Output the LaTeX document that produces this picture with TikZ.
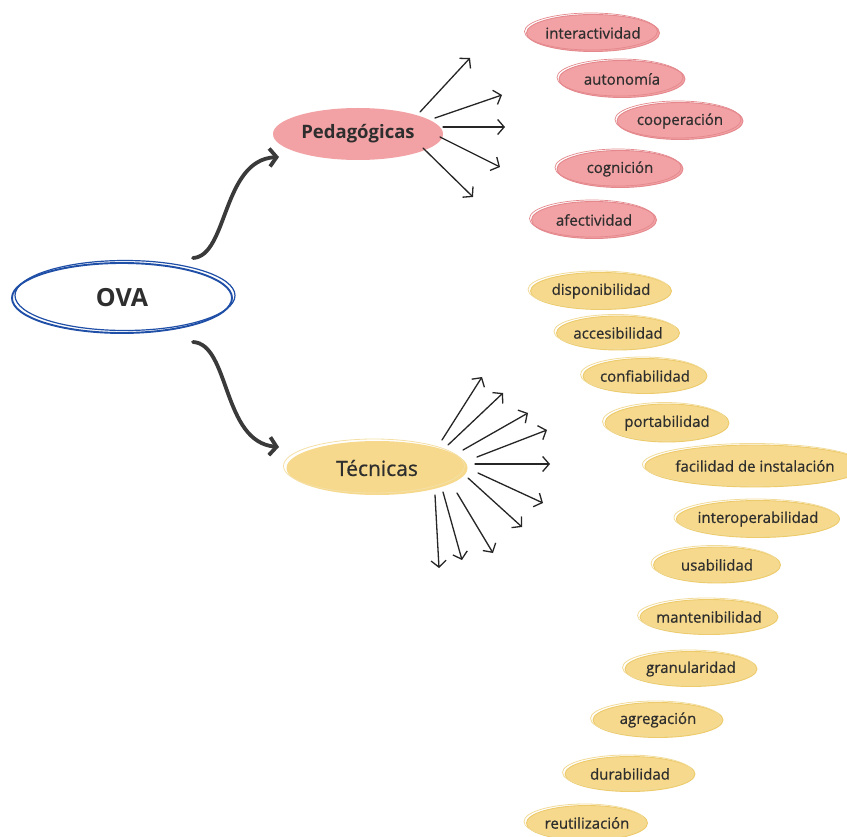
\documentclass[tikz,border=0pt]{standalone}
\usepackage{fontspec}
\setmainfont{Open Sans}
\newfontfamily\medfont{Open Sans}[FakeBold=0.7]
\usetikzlibrary{shapes.geometric,arrows.meta}
\definecolor{pinkfill}{HTML}{F2A2A4}
\definecolor{pinkedge}{HTML}{E4888D}
\definecolor{yelfill}{HTML}{F6D98C}
\definecolor{yeledge}{HTML}{EDCB6C}
\definecolor{ovablue}{HTML}{1F4FA6}
\definecolor{txt}{HTML}{2E2E2E}
\definecolor{curve}{HTML}{3A3A3A}
\tikzset{
  leafbase/.style={ellipse, inner xsep=-20pt, inner ysep=0pt, minimum height=37pt,
    text=txt, font=\medfont\fontsize{15}{18}\selectfont},
  leafp/.style={leafbase, fill=pinkfill, draw=pinkedge, line width=0.9pt,
    postaction={draw=pinkedge, line width=0.7pt, transform canvas={xshift=-2pt,yshift=1.5pt}}},
  leafy/.style={leafbase, fill=yelfill, draw=yeledge, line width=0.9pt,
    postaction={draw=yeledge!70, line width=0.8pt, transform canvas={xshift=-2.5pt,yshift=1.5pt}}},
  thinarrow/.style={draw=black!85, line width=1.3pt, line cap=round,
    -{Straight Barb[length=6.5pt,width=15pt]}},
  thickarrow/.style={draw=curve, line width=3.8pt, line cap=round,
    -{Straight Barb[length=7pt,width=18pt]}},
}
\begin{document}
\begin{tikzpicture}[x=1pt,y=-1pt]
\useasboundingbox (0,0) rectangle (847,837);
\fill[white] (0,0) rectangle (847,837);

% main nodes
\node[ellipse, minimum width=220pt, minimum height=70pt, inner sep=0pt, draw=ovablue, line width=1.9pt,
  postaction={draw=ovablue, line width=1.2pt, transform canvas={xshift=3pt,yshift=2.5pt}},
  font=\fontsize{25}{30}\selectfont\bfseries, text=txt] (ova) at (122,298) {OVA};
\node[ellipse, minimum width=170pt, minimum height=52pt, inner sep=0pt, fill=pinkfill,
  font=\fontsize{18.5}{22}\selectfont\bfseries, text=txt] (ped) at (358,134) {Pedagógicas};
\node[ellipse, minimum width=181pt, minimum height=54pt, inner sep=0pt, fill=yelfill,
  postaction={draw=yeledge!60, line width=0.8pt, transform canvas={xshift=-3pt,yshift=2pt}},
  font=\medfont\fontsize{21}{25}\selectfont, text=txt] (tec) at (377,468) {Técnicas};

% main curved arrows
\draw[thickarrow] ([shift={(71,-40)}]ova.center) .. controls (228,256) and (222,160) .. ([shift={(-79,23)}]ped.center);
\draw[thickarrow] ([shift={(71,44)}]ova.center) .. controls (230,344) and (222,442) .. ([shift={(-98,-21)}]tec.center);

% pink leaves
\node[leafp, minimum width=133pt] (l1) at (593,33) {interactividad};
\node[leafp, minimum width=126pt] (l2) at (622,79) {autonomía};
\node[leafp, minimum width=126pt] (l3) at (680,121) {cooperación};
\node[leafp, minimum width=126pt] (l4) at (620,169) {cognición};
\node[leafp, minimum width=125pt] (l5) at (594,220) {afectividad};

% yellow leaves
\node[leafy, minimum width=141pt, minimum height=37pt] (y1) at (601,291) {disponibilidad};
\node[leafy, minimum width=123pt, minimum height=34pt] (y2) at (618,333) {accesibilidad};
\node[leafy, minimum width=124pt, minimum height=35pt] (y3) at (645,376) {confiabilidad};
\node[leafy, minimum width=124pt, minimum height=38pt] (y4) at (667,423) {portabilidad};
\node[leafy, minimum width=220pt, minimum height=42pt] (y5) at (755,466) {facilidad de instalación};
\node[leafy, minimum width=163pt, minimum height=37pt] (y6) at (758,519) {interoperabilidad};
\node[leafy, minimum width=127pt, minimum height=36pt] (y7) at (717,565) {usabilidad};
\node[leafy, minimum width=138pt, minimum height=35pt] (y8) at (709,617) {mantenibilidad};
\node[leafy, minimum width=132pt, minimum height=35pt] (y9) at (691,669) {granularidad};
\node[leafy, minimum width=130pt, minimum height=35pt] (y10) at (658,720) {agregación};
\node[leafy, minimum width=130pt, minimum height=35pt] (y11) at (630,774) {durabilidad};
\node[leafy, minimum width=121pt, minimum height=35pt] (y12) at (587,823) {reutilización};

% free ends of the fan arrows
\coordinate (pe1) at (470,58);
\coordinate (pe2) at (502,95);
\coordinate (pe3) at (505,127);
\coordinate (pe4) at (500,167);
\coordinate (pe5) at (473,197);
\coordinate (te1) at (482,377);
\coordinate (te2) at (503,393);
\coordinate (te3) at (528,413);
\coordinate (te4) at (547,430);
\coordinate (te5) at (550,464);
\coordinate (te6) at (543,503);
\coordinate (te7) at (522,527);
\coordinate (te8) at (493,553);
\coordinate (te9) at (462,560);
\coordinate (te10) at (439,568);

% Pedagogicas fan
\draw[thinarrow] ([shift={(62,-22)}]ped.center) -- (pe1);
\draw[thinarrow] ([shift={(77,-16)}]ped.center) -- (pe2);
\draw[thinarrow] ([shift={(85,-7)}]ped.center) -- (pe3);
\draw[thinarrow] ([shift={(82,3)}]ped.center) -- (pe4);
\draw[thinarrow] ([shift={(65,14)}]ped.center) -- (pe5);

% Tecnicas fan
\draw[thinarrow] ([shift={(65,-28)}]tec.center) -- (te1);
\draw[thinarrow] ([shift={(71,-23)}]tec.center) -- (te2);
\draw[thinarrow] ([shift={(86,-18)}]tec.center) -- (te3);
\draw[thinarrow] ([shift={(100,-11)}]tec.center) -- (te4);
\draw[thinarrow] ([shift={(98,-4)}]tec.center) -- (te5);
\draw[thinarrow] ([shift={(101,5)}]tec.center) -- (te6);
\draw[thinarrow] ([shift={(91,10)}]tec.center) -- (te7);
\draw[thinarrow] ([shift={(80,25)}]tec.center) -- (te8);
\draw[thinarrow] ([shift={(66,24)}]tec.center) -- (te9);
\draw[thinarrow] ([shift={(58,27)}]tec.center) -- (te10);
\end{tikzpicture}
\end{document}
